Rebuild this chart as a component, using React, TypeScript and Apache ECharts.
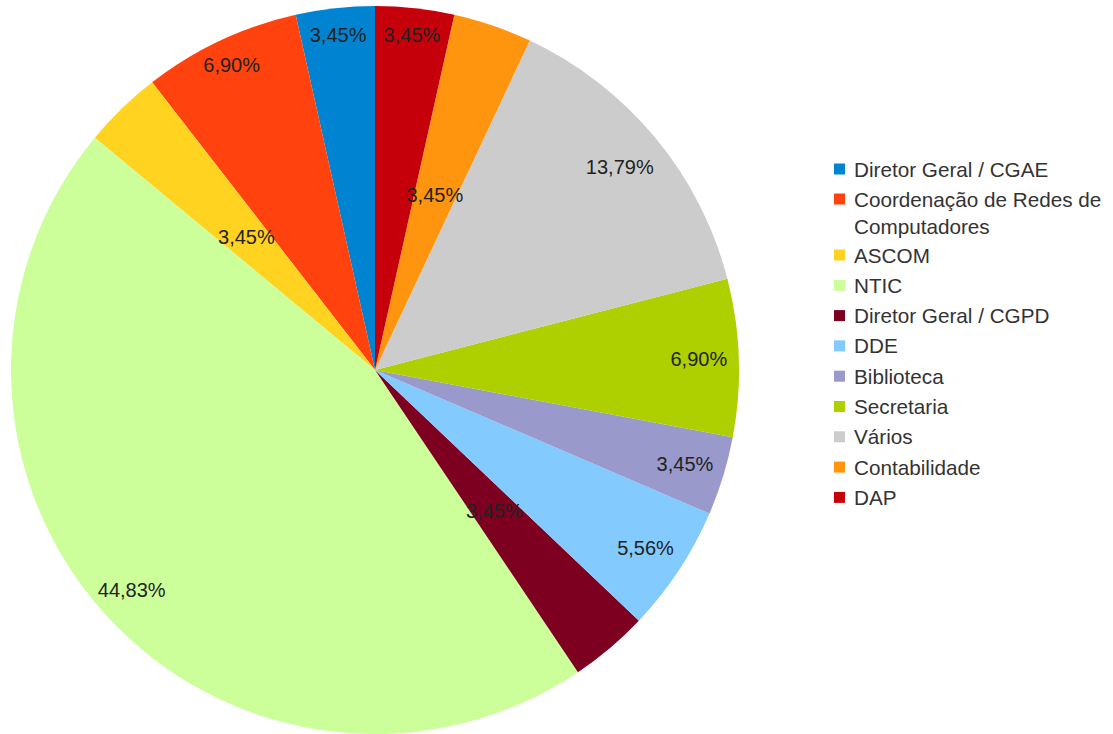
import React, { useEffect, useRef } from "react";
import * as echarts from "echarts";

const categories = [
  "Diretor Geral / CGAE",
  "Coordenação de Redes de Computadores",
  "ASCOM",
  "NTIC",
  "Diretor Geral / CGPD",
  "DDE",
  "Biblioteca",
  "Secretaria",
  "Vários",
  "Contabilidade",
  "DAP",
];
const percents = [3.45, 6.9, 3.45, 44.83, 3.45, 5.56, 3.45, 6.9, 13.79, 3.45, 3.45];
const colors = [
  "#0084d1", "#ff420e", "#ffd320", "#ccff99", "#7e0021", "#83caff",
  "#9999cc", "#aecf00", "#cccccc", "#ff950e", "#c5000b",
];

// label placement groups (style only)
const innerLabelNames = ["ASCOM", "Diretor Geral / CGPD", "Contabilidade"];
const labelRings = [
  { mid: 334, names: ["Diretor Geral / CGAE", "Coordenação de Redes de Computadores", "DAP"] },
  { mid: 325, names: ["NTIC"] },
  { mid: 321, names: ["DDE", "Biblioteca", "Secretaria"] },
  { mid: 315, names: ["Vários"] },
];

const FONT = "Liberation Sans";
const CX = 375;
const CY = 370;
const R = 364;

const fmt = (v: number) => v.toFixed(2).replace(".", ",") + "%";

export default function App() {
  const ref = useRef<HTMLDivElement>(null);
  useEffect(() => {
    document.body.style.margin = "0";
    const chart = echarts.init(ref.current!, null, { renderer: "svg" });
    const labelStyle = {
      fontFamily: FONT,
      fontSize: 20,
      color: "#222",
      position: "inside",
      formatter: (p: any) => fmt(percents[p.dataIndex]),
    };
    const mainSeries = {
      type: "pie",
      center: [CX, CY],
      radius: [0, R],
      startAngle: 90,
      clockwise: false,
      avoidLabelOverlap: false,
      silent: true,
      itemStyle: { borderWidth: 0 },
      label: labelStyle,
      labelLine: { show: false },
      data: categories.map((name, i) => ({
        name,
        value: percents[i],
        itemStyle: { color: colors[i] },
        label: { show: innerLabelNames.includes(name) },
      })),
    };
    const ringSeries = labelRings.map((ring) => ({
      type: "pie",
      center: [CX, CY],
      radius: [2 * ring.mid - R, R],
      startAngle: 90,
      clockwise: false,
      avoidLabelOverlap: false,
      silent: true,
      itemStyle: { color: "rgba(0,0,0,0)", borderWidth: 0 },
      label: labelStyle,
      labelLine: { show: false },
      data: categories.map((name, i) => ({
        name,
        value: percents[i],
        label: { show: ring.names.includes(name) },
      })),
    }));
    const legendText = {
      fontFamily: FONT,
      fontSize: 20.7,
      color: "#333",
      lineHeight: 26,
      padding: [0, 0, 0, 4],
    };
    const legendBase = {
      orient: "vertical",
      left: 834,
      padding: 0,
      itemWidth: 11,
      itemHeight: 11,
      icon: "rect",
      selectedMode: false,
      textStyle: legendText,
    };
    chart.setOption({
      animation: false,
      backgroundColor: "#ffffff",
      legend: [
        {
          ...legendBase,
          top: 156,
          itemGap: 4,
          data: categories.slice(0, 2),
          formatter: (name: string) =>
            name === categories[1] ? "Coordenação de Redes de" : name,
        },
        {
          ...legendBase,
          top: 242,
          itemGap: 4.3,
          data: categories.slice(2),
        },
      ],
      graphic: [
        {
          type: "text",
          x: 854,
          y: 226,
          silent: true,
          style: {
            text: "Computadores",
            fontFamily: FONT,
            fontSize: 20.7,
            fill: "#333",
            verticalAlign: "middle",
          },
        },
      ],
      series: [mainSeries, ...ringSeries],
    });
    return () => chart.dispose();
  }, []);
  return <div ref={ref} style={{ width: 1113, height: 734 }} />;
}
